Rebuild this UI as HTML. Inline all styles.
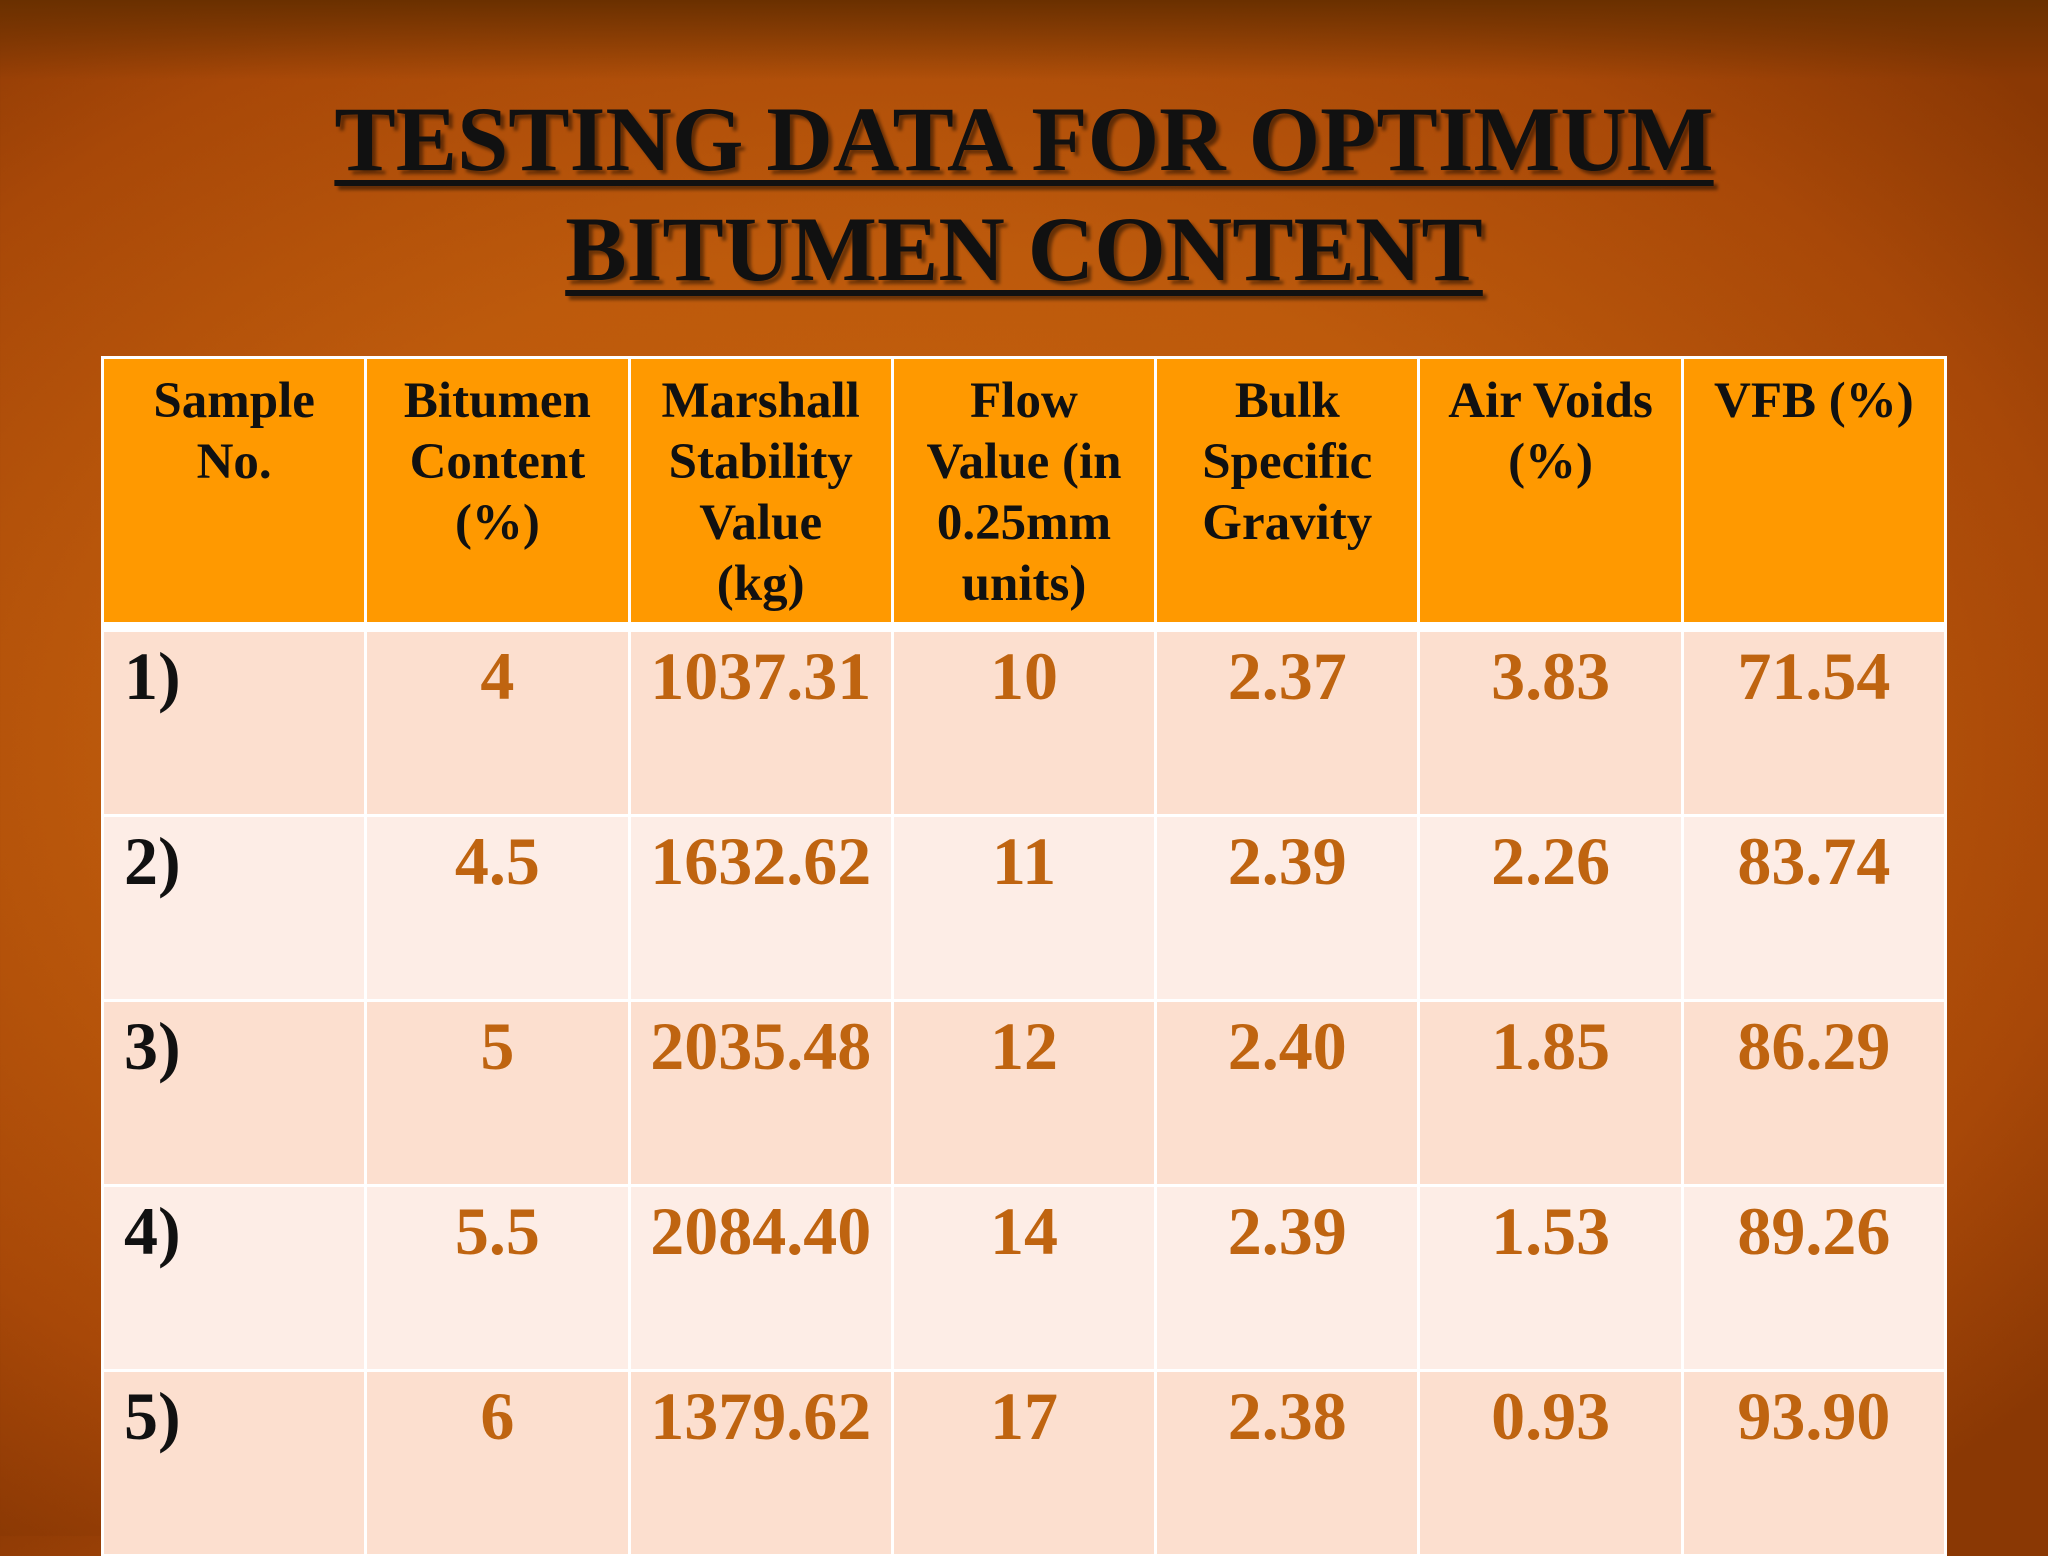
<!DOCTYPE html>
<html><head><meta charset="utf-8"><style>
html,body{margin:0;padding:0}
body{width:2048px;height:1536px;overflow:hidden;position:relative;font-family:"Liberation Serif",serif;
background:radial-gradient(ellipse 1500px 1000px at 900px 750px,#c8620e 0%,#bd5a0c 50%,#a84808 80%,#8a3804 100%);}
.topband{position:absolute;left:0;top:0;width:2048px;height:80px;background:linear-gradient(#6a3000,rgba(150,70,5,0));}
h1{position:absolute;left:0;top:84px;width:2048px;margin:0;text-align:center;font-size:92px;line-height:110px;font-weight:bold;color:#111;text-decoration:underline;text-decoration-thickness:6px;text-underline-offset:10px;text-shadow:4px 4px 3px rgba(0,0,0,.45)}
.tbl{position:absolute;left:101px;top:356px;width:1846px;height:1200px;background:#fff;display:grid;
grid-template-columns:repeat(7,1fr);grid-template-rows:263px 4px repeat(5,182px);column-gap:3px;row-gap:3px;padding:3px 3px 0 3px;box-sizing:border-box}
.gap{grid-column:1 / 8;background:#fff}
.th{background:#ff9900;font-size:51px;line-height:61px;color:#111;font-weight:bold;text-align:center;padding-top:12px}
.td{font-size:68px;font-weight:bold;color:#bf6410;text-align:center;padding-top:4px;line-height:80px}
.s{color:#111;text-align:left;padding-left:20px}
.a{background:#fcdfcf}
.b{background:#fdede6}
</style></head><body>
<div class="topband"></div>
<h1>TESTING DATA FOR OPTIMUM<br>BITUMEN CONTENT</h1>
<div class="tbl">
<div class="th">Sample<br>No.</div>
<div class="th">Bitumen<br>Content<br>(%)</div>
<div class="th">Marshall<br>Stability<br>Value<br>(kg)</div>
<div class="th">Flow<br>Value (in<br>0.25mm<br>units)</div>
<div class="th">Bulk<br>Specific<br>Gravity</div>
<div class="th">Air Voids<br>(%)</div>
<div class="th">VFB (%)</div>
<div class="gap"></div>
<div class="td a s">1)</div><div class="td a">4</div><div class="td a">1037.31</div><div class="td a">10</div><div class="td a">2.37</div><div class="td a">3.83</div><div class="td a">71.54</div>
<div class="td b s">2)</div><div class="td b">4.5</div><div class="td b">1632.62</div><div class="td b">11</div><div class="td b">2.39</div><div class="td b">2.26</div><div class="td b">83.74</div>
<div class="td a s">3)</div><div class="td a">5</div><div class="td a">2035.48</div><div class="td a">12</div><div class="td a">2.40</div><div class="td a">1.85</div><div class="td a">86.29</div>
<div class="td b s">4)</div><div class="td b">5.5</div><div class="td b">2084.40</div><div class="td b">14</div><div class="td b">2.39</div><div class="td b">1.53</div><div class="td b">89.26</div>
<div class="td a s">5)</div><div class="td a">6</div><div class="td a">1379.62</div><div class="td a">17</div><div class="td a">2.38</div><div class="td a">0.93</div><div class="td a">93.90</div>
</div>
</body></html>
